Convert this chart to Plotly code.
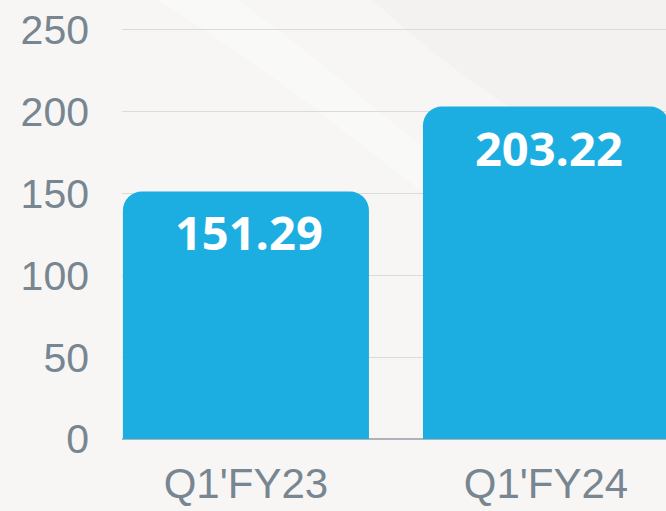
import plotly.graph_objects as go

# data
quarters = ["Q1'FY23", "Q1'FY24"]
values = [151.29, 203.22]
y_ticks = [0, 50, 100, 150, 200, 250]

bar_color = '#1daee1'
grey_text = '#778691'

fig = go.Figure()
fig.add_trace(go.Bar(x=quarters, y=values, width=0.82,
                     marker=dict(color=bar_color, cornerradius=19, line=dict(width=0)),
                     hoverinfo='skip'))

# value labels sit a bit below the top of each bar
for q, v in zip(quarters, values):
    fig.add_annotation(x=q, y=v, text='<b>%.2f</b>' % v, showarrow=False,
                       yanchor='top', yshift=-7, xshift=3,
                       font=dict(family='Open Sans', size=47, color='white'))

# faint light swoosh in the background
fig.add_shape(type='path', xref='paper', yref='paper', layer='below',
              path='M 0.2 1.08 C 0.45 0.85, 0.6 0.6, 1.0 0.35 L 1.0 0.2 C 0.6 0.5, 0.4 0.8, 0.05 1.08 Z',
              fillcolor='rgba(255,255,255,0.3)', line=dict(width=0))
fig.add_shape(type='path', xref='paper', yref='paper', layer='below',
              path='M 0.45 1.08 C 0.6 0.9, 0.75 0.75, 1.0 0.6 L 1.0 1.08 Z',
              fillcolor='rgba(225,222,220,0.15)', line=dict(width=0))

fig.update_layout(
    width=666, height=511,
    margin=dict(l=122, r=0, t=28, b=72),
    paper_bgcolor='#f7f6f5', plot_bgcolor='rgba(0,0,0,0)',
    showlegend=False,
    xaxis=dict(range=[-0.413, 1.4], showgrid=False, showline=False,
               tickfont=dict(family='Liberation Sans', size=42, color=grey_text),
               ticklabelstandoff=16),
    yaxis=dict(range=[0, 251.2], tickvals=y_ticks, showgrid=True, gridcolor='#d9dbde',
               gridwidth=1, zeroline=True, zerolinecolor='#aeb2b9', zerolinewidth=2,
               tickfont=dict(family='Liberation Sans', size=41, color=grey_text),
               ticklabelstandoff=32),
)

fig.write_html("out.html", config={'displayModeBar': False},
               post_script="document.body.style.margin='0px';")
